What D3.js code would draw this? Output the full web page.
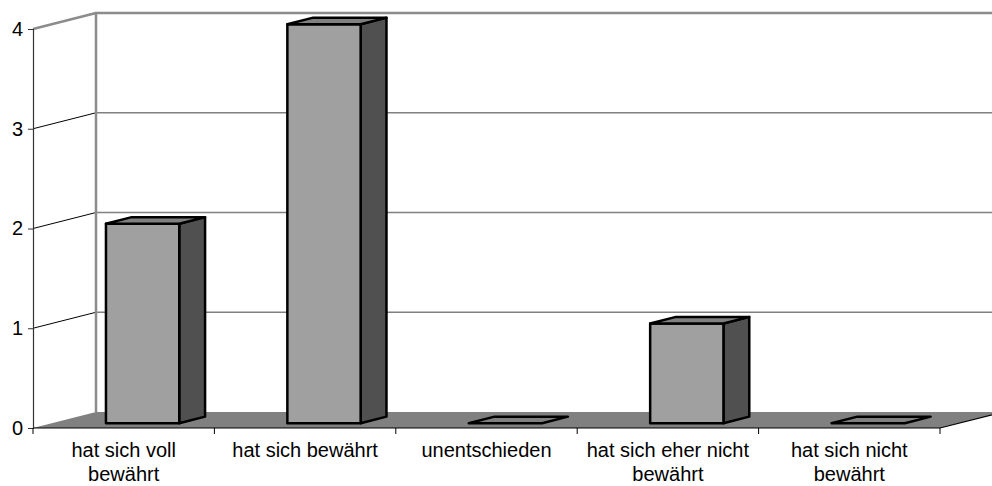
<!DOCTYPE html>
<html>
<head>
<meta charset="utf-8">
<script src="https://cdn.jsdelivr.net/npm/d3@7/dist/d3.min.js"></script>
<style>
  html, body { margin: 0; padding: 0; background: #fff; }
  svg { display: block; }
  text { font-family: "Liberation Sans", Arial, sans-serif; }
</style>
</head>
<body>
<svg id="chart" width="992" height="486"></svg>
<script>
// ---- data ----
const categories = [
  "hat sich voll bewährt",
  "hat sich bewährt",
  "unentschieden",
  "hat sich eher nicht bewährt",
  "hat sich nicht bewährt"
];
const categoryLines = [
  ["hat sich voll", "bewährt"],
  ["hat sich bewährt"],
  ["unentschieden"],
  ["hat sich eher nicht", "bewährt"],
  ["hat sich nicht", "bewährt"]
];
const values = [2, 4, 0, 1, 0];
const yTicks = [0, 1, 2, 3, 4];

// ---- layout ----
const svg = d3.select("#chart");
const x0 = 33, x1 = 940, yBase = 428, yTop = 29;
const depth = { dx: 63, dy: -16 };
const barDepth = [0.30, 0.71];
const barFrac = 0.404;

const x = d3.scaleBand().domain(categories).range([x0, x1]).padding(0);
const y = d3.scaleLinear().domain([0, 4]).range([yBase, yTop]);

const P = (px, py, d) => [px + depth.dx * d, py + depth.dy * d];
const poly = pts => "M" + pts.map(p => p.join(",")).join("L") + "Z";

// floor
svg.append("path")
  .attr("d", poly([P(x0, yBase, 0), P(x1, yBase, 0), P(x1, yBase, 1), P(x0, yBase, 1)]))
  .attr("fill", "#808080");

// back wall gridlines
yTicks.filter(t => t > 0 && t < 4).forEach(t => {
  const a = P(x0, y(t), 1), b = P(x1 + 100, y(t), 1);
  svg.append("line").attr("x1", a[0]).attr("y1", a[1]).attr("x2", b[0]).attr("y2", b[1])
    .attr("stroke", "#808080").attr("stroke-width", 1.5);
  const c = P(x0, y(t), 0);
  svg.append("line").attr("x1", c[0]).attr("y1", c[1]).attr("x2", a[0]).attr("y2", a[1])
    .attr("stroke", "#000").attr("stroke-width", 1);
});
// back wall border
{
  const bl = P(x0, yBase, 1), tl = P(x0, y(4), 1), tr = P(x1 + 100, y(4), 1), ftl = P(x0, y(4), 0);
  svg.append("path")
    .attr("d", `M${bl[0]},${bl[1]}L${tl[0]},${tl[1]}L${tr[0]},${tr[1]}M${ftl[0]},${ftl[1]}L${tl[0]},${tl[1]}`)
    .attr("fill", "none").attr("stroke", "#8c8c8c").attr("stroke-width", 2.5);
}
// floor front & right edges
{
  const fr = P(x1, yBase, 0), br = P(x1, yBase, 1);
  svg.append("path")
    .attr("d", `M${x0},${yBase}L${fr[0]},${fr[1]}L${br[0]},${br[1]}`)
    .attr("fill", "none").attr("stroke", "#000").attr("stroke-width", 1.2);
}

// bars
categories.forEach((c, i) => {
  const v = values[i];
  const bw = x.bandwidth() * barFrac;
  const cx = x(c) + x.bandwidth() / 2;
  const l = cx - bw / 2, r = cx + bw / 2;
  const yb = y(0), yt = y(v);
  const [d0, d1] = barDepth;
  const g = svg.append("g").attr("stroke", "#000").attr("stroke-width", 2.5).attr("stroke-linejoin", "round");
  if (v > 0) {
    // side
    g.append("path").attr("d", poly([P(r, yb, d0), P(r, yb, d1), P(r, yt, d1), P(r, yt, d0)])).attr("fill", "#505050");
    // front
    g.append("path").attr("d", poly([P(l, yb, d0), P(r, yb, d0), P(r, yt, d0), P(l, yt, d0)])).attr("fill", "#a0a0a0");
  }
  // top
  g.append("path").attr("d", poly([P(l, yt, d0), P(r, yt, d0), P(r, yt, d1), P(l, yt, d1)])).attr("fill", "#808080");
});

// y axis
const yAxis = d3.axisLeft(y).tickValues(yTicks).tickFormat(d3.format("d")).tickSize(5).tickPadding(5);
const ya = svg.append("g").attr("transform", `translate(${x0},0)`).call(yAxis);
ya.select(".domain").attr("stroke", "#333").attr("stroke-width", 1.2);
ya.selectAll(".tick line").attr("stroke", "#333");
ya.selectAll(".tick text").attr("font-size", 20).attr("fill", "#000")
  .attr("font-family", '"Liberation Sans", Arial, sans-serif');

// x ticks at band boundaries
const bounds = categories.map(c => x(c)).concat([x1]);
svg.append("g").selectAll("line").data(bounds).join("line")
  .attr("x1", d => d).attr("x2", d => d).attr("y1", yBase).attr("y2", yBase + 6)
  .attr("stroke", "#000").attr("stroke-width", 1);

// x labels
const lab = svg.append("g").attr("font-size", 20).attr("fill", "#000").attr("text-anchor", "middle");
categories.forEach((c, i) => {
  const t = lab.append("text").attr("x", x(c) + x.bandwidth() / 2).attr("y", 457);
  categoryLines[i].forEach((s, k) => {
    t.append("tspan").attr("x", x(c) + x.bandwidth() / 2).attr("dy", k === 0 ? 0 : 24).text(s);
  });
});
</script>
</body>
</html>
